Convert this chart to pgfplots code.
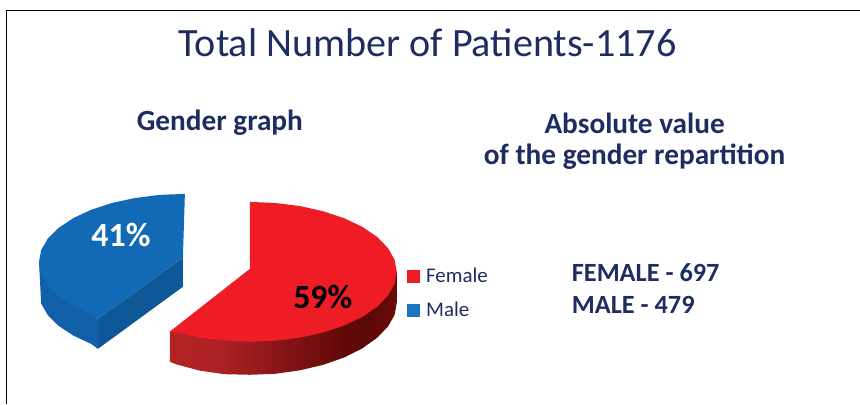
\documentclass[border=0pt]{standalone}
\usepackage{fontspec}
\setmainfont{Carlito}
\usepackage{pgfplots}
\pgfplotsset{compat=1.18}
\definecolor{navy}{HTML}{1F2C60}
\definecolor{redtop}{HTML}{EE1C25}
\definecolor{bluetop}{HTML}{1269B5}
\definecolor{bluewall}{HTML}{1160A8}
\definecolor{bluecut}{HTML}{0E5898}
\definecolor{legblue}{HTML}{1B75BC}
\pgfdeclarehorizontalshading{redside}{100bp}{
  rgb(0bp)=(0.70,0.14,0.15);
  rgb(25bp)=(0.70,0.14,0.15);
  rgb(36bp)=(0.68,0.13,0.14);
  rgb(50bp)=(0.52,0.08,0.09);
  rgb(64bp)=(0.38,0.03,0.03);
  rgb(68bp)=(0.36,0.03,0.03);
  rgb(75bp)=(0.42,0.04,0.04);
  rgb(100bp)=(0.45,0.05,0.05)}
\newcommand{\txt}[2]{\fontsize{#1}{#2}\selectfont}
\begin{document}
\begin{tikzpicture}
\begin{axis}[
  width=860bp, height=404bp, scale only axis,
  xmin=0, xmax=860, ymin=0, ymax=404, y dir=reverse,
  hide axis, clip=false,
  legend style={at={(axis cs:407,266)}, anchor=north west, draw=none, fill=none,
    font=\txt{21}{24}\color{navy}, row sep=14bp, inner sep=0pt, outer sep=0pt,
    legend cell align=left,
    /tikz/every even column/.append style={column sep=0pt}},
  legend image code/.code={\fill[#1] (0bp,-6bp) rectangle (12bp,6bp);},
]
% keeps the page as large as the axis
\addplot[draw=none, forget plot] coordinates {(0,0)(860,404)};
% frame
\addplot[black, line width=1bp, forget plot] coordinates {(860,11)(7,11)(7,404)};
% male slice: cut face, outer wall, top face
\addplot[fill=bluecut, draw=none, forget plot] coordinates {
  (98,319)(183,258)(183,287)(98,349)} -- cycle;
\addplot[fill=bluewall, draw=none, forget plot] coordinates {
  (39,262)(41.2,303.8)(47.8,315.3)(58.6,326)(73.2,335.7)(91.2,344.1)(98,349)(98,319)} -- cycle;
\addplot[fill=bluetop, draw=none, forget plot] coordinates {
  (98,319)(183,258)(185,194)(159.6,195)(135.1,198.1)(112,203.1)(91.2,209.9)(73.2,218.3)
  (58.6,228)(47.8,238.7)(41.2,250.2)(39,262)(41.2,273.8)(47.8,285.3)(58.6,296)(73.2,305.7)(91.2,314.1)} -- cycle;
% female slice: outer wall, top face
\addplot[shading=redside, draw=none, forget plot] coordinates {
  (170,331.7)(170,362)(176.5,364.6)(199.7,370.8)(224.5,374.4)(250,375)(275.5,374)(300.3,370.5)
  (323.5,365)(344.5,357.6)(362.6,348.5)(377.3,338)(388.1,326.9)(394.8,315.2)(397,303)(397,272)} -- cycle;
\addplot[fill=redtop, draw=none, forget plot] coordinates {
  (250,269)(250,202)(275.5,203.1)(300.3,206.2)(323.5,211.4)(344.5,218.4)(362.6,227)(377.3,237)
  (388.1,248.1)(394.8,259.8)(397,272)(394.8,284.2)(388.1,295.9)(377.3,307)(362.6,317)(344.5,325.6)
  (323.5,332.6)(300.3,337.8)(275.5,340.9)(250,342)(224.5,340.9)(199.7,337.8)(176.5,332.6)(170,331.7)} -- cycle;
% legend
\addlegendimage{redtop}
\addlegendentry{\hspace{5bp}Female}
\addlegendimage{legblue}
\addlegendentry{\hspace{5bp}Male}
% text
\node[navy, font=\txt{40.3}{46}] at (axis cs:428,43) {Total Number of Patients-1176};
\node[navy, font=\txt{29.4}{34}\bfseries] at (axis cs:220,123) {Gender graph};
\node[navy, font=\txt{29.4}{34}\bfseries] at (axis cs:635,123) {Absolute value};
\node[navy, font=\txt{29.4}{34}\bfseries] at (axis cs:635,157) {of the gender repartition};
\node[navy, font=\txt{26.4}{30}\bfseries, anchor=west, inner sep=0pt] at (axis cs:572,273) {FEMALE - 697};
\node[navy, font=\txt{26.4}{30}\bfseries, anchor=west, inner sep=0pt] at (axis cs:572,305) {MALE - 479};
\node[white, font=\txt{34}{38}\bfseries] at (axis cs:121,235) {41\%};
\node[black, font=\txt{34}{38}\bfseries] at (axis cs:323,297) {59\%};
\end{axis}
\end{tikzpicture}
\end{document}
